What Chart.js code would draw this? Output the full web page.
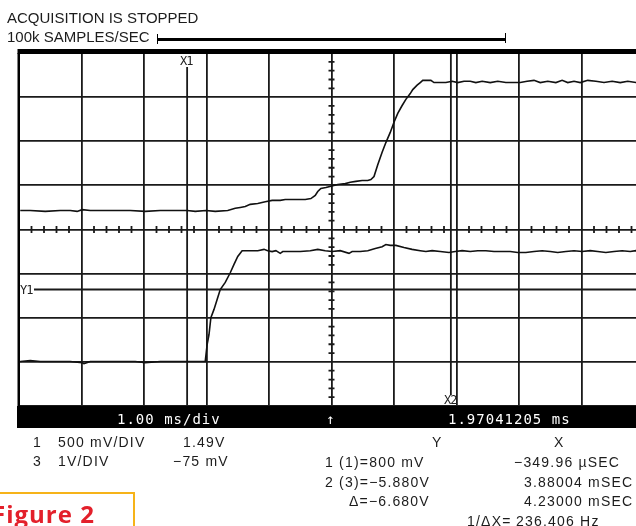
<!DOCTYPE html>
<html>
<head>
<meta charset="utf-8">
<script src="https://cdn.jsdelivr.net/npm/chart.js@4.4.1/dist/chart.umd.min.js"></script>
<style>
  body { margin: 0; width: 636px; height: 526px; overflow: hidden; position: relative; background: #fff; }
  #scope { position: absolute; left: 0; top: 0; }
  .txt { position: absolute; font-family: "Liberation Sans", Arial, sans-serif; font-size: 14px; line-height: 14px; letter-spacing: 1.2px; color: #1c1c1c; white-space: pre; }
  .head { font-size: 15px; line-height: 15px; letter-spacing: 0; }
  .mark { position: absolute; font-family: "DejaVu Sans Mono", monospace; font-size: 12px; line-height: 12px; letter-spacing: -1px; color: #222; white-space: pre; }
  #bar { position: absolute; left: 17px; top: 406px; width: 640px; height: 22px; background: #000; }
  .bartxt { position: absolute; top: 2px; font-family: "DejaVu Sans Mono", monospace; font-size: 14px; line-height: 22px; letter-spacing: 1px; color: #fff; white-space: pre; }
  #fig { position: absolute; left: -12px; top: 492px; width: 147px; height: 60px; border: 2px solid #f6b319; box-sizing: border-box; }
  #figtxt { position: absolute; left: -8px; top: 502px; font-family: "Open Sans", sans-serif; font-weight: 700; font-size: 24px; line-height: 24px; letter-spacing: 1px; color: #e3202b; white-space: pre; }
</style>
</head>
<body>
<canvas id="scope" width="650" height="526"></canvas>

<div class="txt head" style="left:7px;top:10px">ACQUISITION IS STOPPED</div>
<div class="txt head" style="left:7px;top:29px">100k SAMPLES/SEC</div>
<div style="position:absolute;left:157px;top:38px;width:349px;height:3px;background:#000"></div>
<div style="position:absolute;left:157px;top:34px;width:1px;height:10px;background:#000"></div>
<div style="position:absolute;left:505px;top:33px;width:1px;height:10px;background:#000"></div>

<div class="mark" style="left:180px;top:55px">X1</div>
<div class="mark" style="left:20px;top:284px">Y1</div>
<div class="mark" style="left:444px;top:394px">X2</div>

<div id="bar">
  <div class="bartxt" style="left:100px">1.00 ms/div</div>
  <div class="bartxt" style="left:309px">↑</div>
  <div class="bartxt" style="left:431px">1.97041205 ms</div>
</div>

<div class="txt" style="left:33px;top:435px">1</div>
<div class="txt" style="left:58px;top:435px">500 mV/DIV</div>
<div class="txt" style="left:183px;top:435px">1.49V</div>
<div class="txt" style="left:33px;top:454px">3</div>
<div class="txt" style="left:58px;top:454px">1V/DIV</div>
<div class="txt" style="left:173px;top:454px">−75 mV</div>

<div class="txt" style="left:432px;top:435px">Y</div>
<div class="txt" style="left:554px;top:435px">X</div>
<div class="txt" style="left:325px;top:455px">1 (1)=800 mV</div>
<div class="txt" style="left:514px;top:455px">−349.96 µSEC</div>
<div class="txt" style="left:524px;top:475px">3.88004 mSEC</div>
<div class="txt" style="left:325px;top:475px">2 (3)=−5.880V</div>
<div class="txt" style="left:349px;top:494px">Δ=−6.680V</div>
<div class="txt" style="left:524px;top:494px">4.23000 mSEC</div>
<div class="txt" style="left:467px;top:514px">1/ΔX=</div>
<div class="txt" style="left:516px;top:514px">236.406 Hz</div>

<div id="fig"></div>
<div id="figtxt">Figure 2</div>

<script>
// ----------------------------
// TRACE DATA (time in ms from left edge, level in divisions from centre)
// ----------------------------
const ch1Time = [0.02, 0.18, 0.42, 0.66, 0.82, 0.93, 1.01, 1.14, 1.46, 1.78,
    2.02, 2.26, 2.50, 2.69, 2.82, 2.99, 3.14, 3.34, 3.46, 3.54,
    3.62, 3.70, 3.82, 3.94, 4.05, 4.18, 4.26, 4.42, 4.58, 4.67,
    4.74, 4.78, 4.83, 4.91, 4.99, 5.10, 5.22, 5.30, 5.39, 5.49,
    5.58, 5.63, 5.68, 5.74, 5.81, 5.87, 5.94, 6.00, 6.06, 6.13,
    6.19, 6.26, 6.30, 6.37, 6.42, 6.46, 6.54, 6.59, 6.64, 6.74,
    6.83, 6.93, 7.02, 7.12, 7.22, 7.31, 7.41, 7.54, 7.66, 7.79,
    7.89, 8.02, 8.13, 8.24, 8.34, 8.46, 8.59, 8.69, 8.78, 8.88,
    8.98, 9.10, 9.23, 9.36, 9.49, 9.62, 9.74, 9.87, 10.0];
const ch1Level = [0.43, 0.43, 0.41, 0.43, 0.43, 0.41, 0.45, 0.43, 0.43, 0.43,
    0.41, 0.43, 0.43, 0.43, 0.41, 0.43, 0.41, 0.43, 0.48, 0.50,
    0.52, 0.57, 0.59, 0.63, 0.66, 0.66, 0.68, 0.68, 0.68, 0.70,
    0.77, 0.86, 0.93, 0.95, 0.98, 1.02, 1.04, 1.07, 1.09, 1.11,
    1.11, 1.13, 1.20, 1.47, 1.75, 1.97, 2.20, 2.43, 2.63, 2.81,
    2.95, 3.08, 3.17, 3.27, 3.33, 3.38, 3.38, 3.38, 3.33, 3.33,
    3.33, 3.36, 3.33, 3.36, 3.36, 3.33, 3.36, 3.33, 3.36, 3.33,
    3.33, 3.33, 3.36, 3.38, 3.33, 3.36, 3.33, 3.38, 3.33, 3.36,
    3.33, 3.38, 3.36, 3.33, 3.36, 3.33, 3.36, 3.33, 3.36];

const ch3Time = [0.02, 0.18, 0.34, 0.58, 0.82, 1.01, 1.04, 1.14, 1.38, 1.62,
    1.86, 2.02, 2.26, 2.50, 2.74, 2.90, 2.98, 3.01, 3.04, 3.07,
    3.12, 3.18, 3.22, 3.30, 3.38, 3.44, 3.50, 3.57, 3.70, 3.82,
    3.92, 3.98, 4.05, 4.11, 4.18, 4.22, 4.34, 4.50, 4.66, 4.78,
    4.90, 5.01, 5.14, 5.28, 5.33, 5.46, 5.58, 5.70, 5.81, 5.87,
    5.94, 6.03, 6.16, 6.29, 6.42, 6.51, 6.61, 6.74, 6.88, 6.98,
    7.09, 7.22, 7.34, 7.47, 7.60, 7.73, 7.86, 7.98, 8.11, 8.24,
    8.37, 8.50, 8.62, 8.75, 8.88, 9.01, 9.14, 9.26, 9.39, 9.52,
    9.65, 9.78, 9.87, 10.0];
const ch3Level = [-2.99, -2.97, -2.99, -2.99, -2.99, -3.02, -3.04, -2.99, -2.99, -2.99,
    -2.99, -3.02, -2.99, -2.99, -2.99, -2.99, -2.99, -2.61, -2.38, -2.00,
    -1.81, -1.54, -1.36, -1.20, -0.98, -0.79, -0.61, -0.48, -0.48, -0.48,
    -0.45, -0.48, -0.50, -0.48, -0.54, -0.50, -0.50, -0.50, -0.48, -0.45,
    -0.48, -0.50, -0.48, -0.54, -0.50, -0.50, -0.48, -0.43, -0.39, -0.34,
    -0.36, -0.36, -0.41, -0.45, -0.48, -0.50, -0.48, -0.50, -0.52, -0.50,
    -0.48, -0.50, -0.48, -0.48, -0.50, -0.50, -0.50, -0.52, -0.52, -0.50,
    -0.48, -0.50, -0.52, -0.50, -0.48, -0.50, -0.48, -0.50, -0.52, -0.50,
    -0.48, -0.50, -0.48, -0.50];

// cursor positions
const cursorX1 = 2.69;
const cursorX2 = 6.91;
const cursorY1 = -1.36;

const ch1Points = ch1Time.map((t, i) => ({ x: t, y: ch1Level[i] }));
const ch3Points = ch3Time.map((t, i) => ({ x: t, y: ch3Level[i] }));

// ----------------------------
// GRATICULE EXTRAS + CURSORS
// ----------------------------
const scopeOverlay = {
    id: "scopeOverlay",
    beforeDatasetsDraw(chart) {
        const { ctx, chartArea: a, scales: { x, y } } = chart;
        const cx = x.getPixelForValue(5);
        const cy = y.getPixelForValue(0);

        ctx.save();
        ctx.strokeStyle = "#1a1a1a";
        ctx.lineWidth = 1.8;

        // minor ticks on the centre axes
        ctx.beginPath();
        for (let i = 1; i < 50; i++) {
            if (i % 5 === 0) continue;
            const px = x.getPixelForValue(i * 0.2);
            ctx.moveTo(px, cy - 3.5);
            ctx.lineTo(px, cy + 3.5);
        }
        for (let i = 1; i < 40; i++) {
            if (i % 5 === 0) continue;
            const py = y.getPixelForValue(-4 + i * 0.2);
            ctx.moveTo(cx - 3, py);
            ctx.lineTo(cx + 3, py);
        }
        ctx.stroke();

        // cursors
        ctx.beginPath();
        const x1 = x.getPixelForValue(cursorX1);
        ctx.moveTo(x1, a.top + 14);
        ctx.lineTo(x1, a.bottom);
        const x2 = x.getPixelForValue(cursorX2);
        ctx.moveTo(x2, a.top);
        ctx.lineTo(x2, a.bottom - 11);
        const y1 = y.getPixelForValue(cursorY1);
        ctx.moveTo(a.left + 15, y1);
        ctx.lineTo(a.right, y1);
        ctx.stroke();

        // heavy top edge and left edge
        ctx.fillStyle = "#000";
        ctx.fillRect(a.left - 1.5, a.top - 4, a.right - a.left + 2, 5);
        ctx.fillRect(a.left - 1.5, a.top, 2.5, a.bottom - a.top);
        ctx.restore();
    }
};

const gridStyle = { color: "#1a1a1a", lineWidth: 1.8, drawTicks: false };

new Chart(document.getElementById("scope"), {
    type: "scatter",
    data: {
        datasets: [
            { data: ch1Points, showLine: true, borderColor: "#111", borderWidth: 1.6, pointRadius: 0, tension: 0 },
            { data: ch3Points, showLine: true, borderColor: "#111", borderWidth: 1.6, pointRadius: 0, tension: 0 }
        ]
    },
    options: {
        responsive: false,
        animation: false,
        events: [],
        layout: { padding: { left: 19, top: 53, right: 6, bottom: 120 } },
        plugins: { legend: { display: false }, tooltip: { enabled: false } },
        scales: {
            x: { type: "linear", min: 0, max: 10, ticks: { display: false, stepSize: 1 }, grid: gridStyle, border: { display: false } },
            y: { type: "linear", min: -4, max: 4, ticks: { display: false, stepSize: 1 }, grid: gridStyle, border: { display: false } }
        }
    },
    plugins: [scopeOverlay]
});
</script>
</body>
</html>
